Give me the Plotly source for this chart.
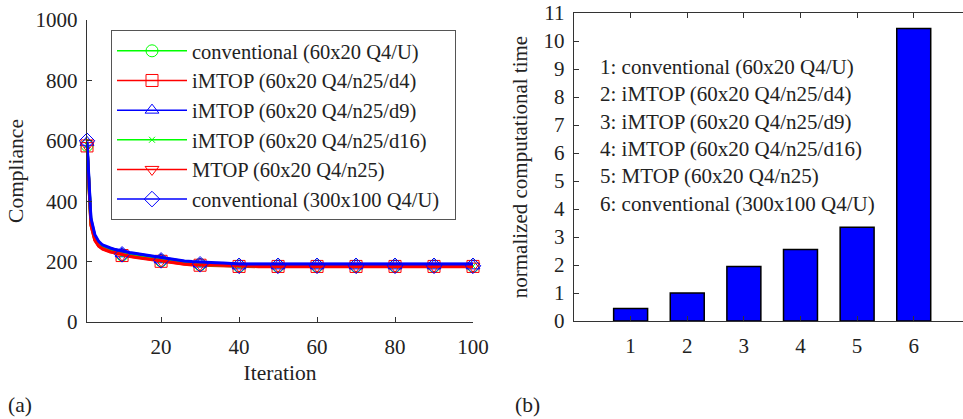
import plotly.graph_objects as go

# ---------------- data ----------------
iterations = [1, 2, 3, 4, 5, 6, 7, 8, 10, 12, 14, 16, 18, 20, 22, 24, 26, 28, 30,
              32, 34, 36, 38, 40, 45, 50, 60, 70, 80, 90, 100]
conv_60x20 = [585, 330, 278, 258, 247, 241, 237, 233, 226, 221, 217, 213, 209, 205, 201,
              198, 195, 193, 191, 189, 188, 187, 186, 185, 185, 185, 185, 185, 185, 185, 185]
imtop_d4 = [583, 320, 270, 251, 241, 236, 232, 229, 222, 217, 213, 209, 205, 201, 197,
            194, 191, 189, 188, 187, 186, 185, 184, 183, 183, 183, 183, 183, 183, 183, 183]
imtop_d9 = [590, 340, 285, 263, 252, 246, 242, 239, 233, 228, 224, 220, 216, 212, 207,
            203, 200, 198, 197, 196, 195, 194, 192, 191, 191, 191, 191, 191, 191, 191, 191]
imtop_d16 = [586, 328, 276, 256, 246, 240, 236, 232, 225, 220, 216, 212, 208, 204, 200,
             197, 194, 192, 190, 189, 188, 187, 186, 185, 185, 185, 185, 185, 185, 185, 185]
mtop_n25 = [584, 322, 272, 252, 243, 237, 233, 230, 223, 218, 214, 210, 206, 202, 198,
            195, 192, 190, 189, 188, 187, 186, 185, 184, 184, 184, 184, 184, 184, 184, 184]
conv_300x100 = [598, 345, 290, 267, 255, 249, 245, 241, 235, 230, 226, 222, 218, 214, 209,
                205, 202, 200, 198, 197, 196, 195, 193, 192, 192, 192, 192, 192, 192, 192, 192]

marker_iters = [1, 10, 20, 30, 40, 50, 60, 70, 80, 90, 100]
conv_60x20_m = [585, 222, 203, 190, 185, 185, 185, 185, 185, 185, 185]
imtop_d4_m = [583, 220, 201, 188, 184, 184, 184, 184, 184, 184, 184]
imtop_d9_m = [595, 226, 206, 192, 186, 186, 186, 186, 186, 186, 186]
imtop_d16_m = [586, 221, 202, 189, 185, 185, 185, 185, 185, 185, 185]
mtop_n25_m = [584, 222, 203, 190, 185, 185, 185, 185, 185, 185, 185]
conv_300x100_m = [600, 224, 204, 191, 186, 186, 186, 186, 186, 186, 186]

series_names = ["conventional (60x20 Q4/U)", "iMTOP (60x20 Q4/n25/d4)",
                "iMTOP (60x20 Q4/n25/d9)", "iMTOP (60x20 Q4/n25/d16)",
                "MTOP (60x20 Q4/n25)", "conventional (300x100 Q4/U)"]

bar_cases = [1, 2, 3, 4, 5, 6]
norm_time = [0.45, 1.0, 1.95, 2.55, 3.35, 10.45]

# ---------------- styling ----------------
FONT = "Liberation Serif, Times New Roman, serif"
TXT = "#222222"
GREEN, RED, BLUE = "#00ff00", "#ff0000", "#0000ff"
AXC = "#333333"
styles = [
    (GREEN, "circle-open"),
    (RED, "square-open"),
    (BLUE, "triangle-up-open"),
    (GREEN, "x-thin-open"),
    (RED, "triangle-down-open"),
    (BLUE, "diamond-open"),
]
line_data = [conv_60x20, imtop_d4, imtop_d9, imtop_d16, mtop_n25, conv_300x100]
marker_data = [conv_60x20_m, imtop_d4_m, imtop_d9_m, imtop_d16_m, mtop_n25_m, conv_300x100_m]

fig = go.Figure()

# curves and markers (no legend entries)
for ys, ym, (col, sym) in zip(line_data, marker_data, styles):
    msize = 6 if "x-thin" in sym else 12
    fig.add_trace(go.Scatter(x=iterations, y=ys, mode="lines",
                             line=dict(color=col, width=3), showlegend=False,
                             xaxis="x", yaxis="y"))
    fig.add_trace(go.Scatter(x=marker_iters, y=ym, mode="markers",
                             marker=dict(symbol=sym, size=msize,
                                         color=col, line=dict(color=col, width=1)),
                             showlegend=False, cliponaxis=False,
                             xaxis="x", yaxis="y"))

# legend entries
for name, (col, sym) in zip(series_names, styles):
    msize = 6 if "x-thin" in sym else 12
    fig.add_trace(go.Scatter(x=[None], y=[None], mode="lines+markers",
                             name=name + "\u00a0\u00a0",
                             line=dict(color=col, width=1.5),
                             marker=dict(symbol=sym, size=msize,
                                         color=col, line=dict(color=col, width=1)),
                             xaxis="x", yaxis="y"))

fig.add_trace(go.Bar(x=bar_cases, y=norm_time, width=0.6,
                     marker=dict(color=BLUE, line=dict(color="#000000", width=1.5)),
                     showlegend=False, xaxis="x2", yaxis="y2"))

axis_common = dict(showgrid=False, zeroline=False, showline=True, linecolor=AXC,
                   linewidth=1.2, ticks="inside", tickcolor=AXC, ticklen=5,
                   automargin=False,
                   tickfont=dict(family=FONT, size=21, color=TXT))

fig.update_layout(
    width=963, height=419,
    margin=dict(l=0, r=0, t=0, b=0, autoexpand=False),
    paper_bgcolor="white", plot_bgcolor="white",
    font=dict(family=FONT, size=21, color=TXT),
    xaxis=dict(domain=[87 / 963, 473 / 963], range=[1, 100],
               tickvals=[20, 40, 60, 80, 100], ticklabelstandoff=6,
               title=dict(text="Iteration", standoff=6,
                          font=dict(family=FONT, size=21.5, color=TXT)),
               **axis_common),
    yaxis=dict(domain=[97 / 419, 399 / 419], range=[0, 1000],
               tickvals=[0, 200, 400, 600, 800, 1000], ticklabelstandoff=4,
               title=dict(text="Compliance", standoff=6,
                          font=dict(family=FONT, size=21.5, color=TXT)),
               **axis_common),
    xaxis2=dict(domain=[574 / 963, 1.0], range=[0, 6.87], anchor="y2",
                tickvals=bar_cases, mirror="ticks", ticklabelstandoff=6,
                **axis_common),
    yaxis2=dict(domain=[98 / 419, 406 / 419], range=[0, 11], anchor="x2",
                tickvals=list(range(0, 12)), ticklabelstandoff=4,
                title=dict(text="normalized computational time", standoff=10,
                           font=dict(family=FONT, size=21, color=TXT)),
                **axis_common),
    legend=dict(x=111 / 963, y=1 - 30 / 419, xanchor="left", yanchor="top",
                bgcolor="white", bordercolor="#555555", borderwidth=1,
                font=dict(family=FONT, size=20.5, color=TXT),
                traceorder="normal", itemwidth=70),
    annotations=[
        dict(text="1: conventional (60x20 Q4/U)<br>2: iMTOP (60x20 Q4/n25/d4)<br>"
                  "3: iMTOP (60x20 Q4/n25/d9)<br>4: iMTOP (60x20 Q4/n25/d16)<br>"
                  "5: MTOP (60x20 Q4/n25)<br>6: conventional (300x100 Q4/U)",
             xref="paper", yref="paper", x=598 / 963, y=1 - 53 / 419,
             xanchor="left", yanchor="top", align="left", showarrow=False,
             font=dict(family=FONT, size=21, color=TXT)),
        dict(text="(a)", xref="paper", yref="paper", x=6 / 963, y=(419 - 405) / 419,
             xanchor="left", yanchor="middle", showarrow=False,
             font=dict(family=FONT, size=21.5, color=TXT)),
        dict(text="(b)", xref="paper", yref="paper", x=513 / 963, y=(419 - 405) / 419,
             xanchor="left", yanchor="middle", showarrow=False,
             font=dict(family=FONT, size=21.5, color=TXT)),
    ],
)

fig.write_html(
    "out.html",
    config={"displayModeBar": False, "staticPlot": True},
    post_script="document.body.style.margin='0';document.body.style.padding='0';",
)
